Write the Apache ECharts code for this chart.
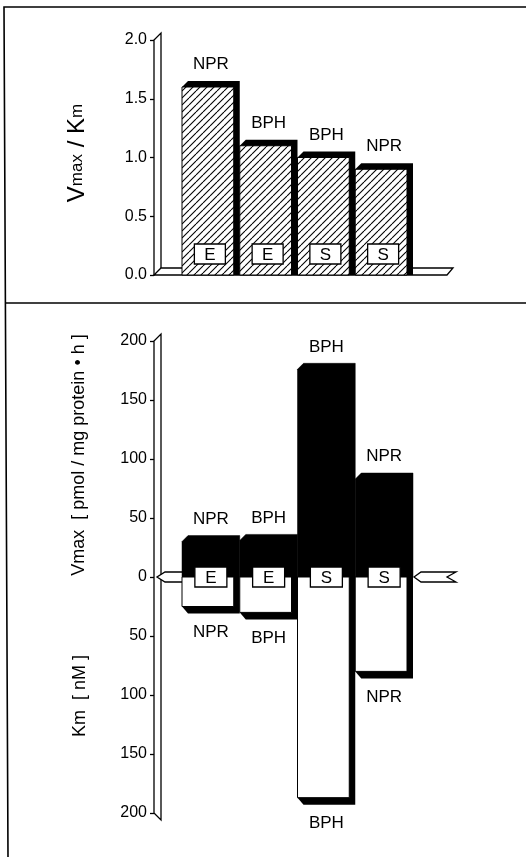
<!DOCTYPE html>
<html>
<head>
<meta charset="utf-8">
<script src="https://cdn.jsdelivr.net/npm/echarts@6/dist/echarts.min.js"></script>
<style>
html,body{margin:0;padding:0;background:#fff;}
#main{width:526px;height:857px;}
</style>
</head>
<body>
<div id="main"></div>
<script>
// ---- data ----
const categories = ['E', 'E', 'S', 'S'];
const tissues = ['NPR', 'BPH', 'BPH', 'NPR'];
const ratioValues = [1.6, 1.1, 1.0, 0.9];     // Vmax / Km
const vmaxValues = [30, 31, 176, 83];          // pmol / mg protein · h
const kmValues = [25, 30, 187, 80];            // nM
const ratioTicks = [0, 0.5, 1.0, 1.5, 2.0];
const kineticTicks = [-200, -150, -100, -50, 0, 50, 100, 150, 200];

const FONT = "'Liberation Sans', Arial, Helvetica, sans-serif";
const AXIS_OFFSET = 28, SLAB = 7, DEPTH = 6;

// hatch pattern
const hatch = document.createElement('canvas');
hatch.width = 7; hatch.height = 7;
(function () {
  const c = hatch.getContext('2d');
  c.fillStyle = '#fff'; c.fillRect(0, 0, 7, 7);
  c.strokeStyle = '#000'; c.lineWidth = 1.1;
  [-7, 0, 7].forEach(o => { c.beginPath(); c.moveTo(o, 7); c.lineTo(o + 7, 0); c.stroke(); });
})();

const chart = echarts.init(document.getElementById('main'), null, {renderer: 'canvas'});

function geom(params, api, i) {
  const pitch = api.size([1, 0])[0];
  const c = api.coord([i, 0]);
  const x0 = c[0] - pitch / 2;
  return {pitch, x0, x1: x0 + pitch - DEPTH, base: c[1], mid: c[0]};
}
function boxEl(cx, cy, letter, w, h) {
  return [
    {type: 'rect', shape: {x: cx - w / 2, y: cy - h / 2, width: w, height: h},
     style: {fill: '#fff', stroke: '#000', lineWidth: 1.3}},
    {type: 'text', style: {x: cx, y: cy + 1, text: letter, align: 'center', verticalAlign: 'middle',
      font: '17px ' + FONT, fill: '#000'}}
  ];
}

// top frame: axis slab + floor
function topFrame(params, api) {
  const cs = params.coordSys;
  const ax = cs.x - AXIS_OFFSET;
  const base = api.coord([0, 0])[1];
  const R = cs.x + cs.width;
  return {type: 'group', children: [
    {type: 'polyline', shape: {points: [[ax, base + 1], [ax, cs.y], [ax + SLAB, cs.y - SLAB], [ax + SLAB, base - SLAB]]},
     style: {stroke: '#000', lineWidth: 1.3, fill: null}},
    {type: 'polygon', shape: {points: [[ax, base], [ax + SLAB, base - SLAB], [R + 40, base - SLAB], [R + 34, base]]},
     style: {stroke: '#000', lineWidth: 1.3, fill: '#fff'}}
  ]};
}
function topBar(params, api) {
  const i = api.value(0), v = api.value(1);
  const g = geom(params, api, i);
  const top = api.coord([i, v])[1];
  const d = DEPTH;
  return {type: 'group', children: [
    {type: 'polygon', shape: {points: [[g.x0, top], [g.x0 + d, top - d], [g.x1 + d, top - d], [g.x1 + d, g.base], [g.x1, g.base]]},
     style: {fill: '#000'}},
    {type: 'rect', shape: {x: g.x0, y: top, width: g.x1 - g.x0, height: g.base - top},
     style: {fill: {image: hatch, repeat: 'repeat'}, stroke: '#000', lineWidth: 1}},
    ...boxEl((g.x0 + g.x1) / 2 + 2, g.base - 21, categories[i], 31, 20),
    {type: 'text', style: {x: g.mid, y: top - d - 8, text: tissues[i], align: 'center', verticalAlign: 'bottom',
      font: '17px ' + FONT, fill: '#000'}}
  ]};
}

// bottom frame: slab + zero ribbon
function botFrame(params, api) {
  const cs = params.coordSys;
  const ax = cs.x - AXIS_OFFSET;
  const z = api.coord([0, 0])[1];
  const R = cs.x + cs.width;
  const B = cs.y + cs.height;
  return {type: 'group', children: [
    {type: 'polyline', shape: {points: [[ax, B], [ax, cs.y], [ax + SLAB, cs.y - SLAB], [ax + SLAB, B + SLAB], [ax, B]]},
     style: {stroke: '#000', lineWidth: 1.3, fill: null}},
    {type: 'polygon', shape: {points: [[cs.x + 2, z - 5], [ax + 11, z - 5], [ax + 3, z], [ax + 11, z + 5], [cs.x + 2, z + 5]]},
     style: {stroke: '#000', lineWidth: 1.3, fill: '#fff'}},
    {type: 'polygon', shape: {points: [[R + 1, z], [R + 8, z - 5], [R + 43, z - 5], [R + 34, z], [R + 43, z + 5], [R + 8, z + 5]]},
     style: {stroke: '#000', lineWidth: 1.3, fill: '#fff'}}
  ]};
}
function vmaxBar(params, api) {
  const i = api.value(0), v = api.value(1);
  const g = geom(params, api, i);
  const top = api.coord([i, v])[1];
  const d = DEPTH;
  return {type: 'group', children: [
    {type: 'polygon', shape: {points: [[g.x0, g.base], [g.x0, top], [g.x0 + d, top - d], [g.x1 + d, top - d], [g.x1 + d, g.base]]},
     style: {fill: '#000', stroke: '#000', lineWidth: 0.5}},
    {type: 'text', style: {x: g.mid, y: top - d - 8, text: tissues[i], align: 'center', verticalAlign: 'bottom',
      font: '17px ' + FONT, fill: '#000'}}
  ]};
}
function kmBar(params, api) {
  const i = api.value(0), v = api.value(1);
  const g = geom(params, api, i);
  const bot = api.coord([i, v])[1];
  const d = DEPTH;
  return {type: 'group', children: [
    {type: 'polygon', shape: {points: [[g.x1, g.base], [g.x1 + d, g.base], [g.x1 + d, bot + d + 1], [g.x0 + d, bot + d + 1], [g.x0, bot]]},
     style: {fill: '#000'}},
    {type: 'rect', shape: {x: g.x0, y: g.base, width: g.x1 - g.x0, height: bot - g.base},
     style: {fill: '#fff', stroke: '#000', lineWidth: 1}},
    ...boxEl((g.x0 + g.x1) / 2 + 3, g.base, categories[i], 32, 20),
    {type: 'text', style: {x: g.mid, y: bot + d + 11, text: tissues[i], align: 'center', verticalAlign: 'top',
      font: '17px ' + FONT, fill: '#000'}}
  ]};
}

const ratioData = ratioValues.map((v, i) => [i, v]);
const vmaxData = vmaxValues.map((v, i) => [i, v]);
const kmData = kmValues.map((v, i) => [i, -v]);

const yCommon = {
  type: 'value', offset: AXIS_OFFSET,
  axisLine: {show: false},
  axisTick: {show: true, inside: false, length: 4, lineStyle: {color: '#000', width: 1.3}},
  splitLine: {show: false},
  axisLabel: {color: '#000', fontFamily: FONT, margin: 7}
};
const xCommon = {type: 'category', data: categories, boundaryGap: true, show: false};

chart.setOption({
  animation: false,
  backgroundColor: '#fff',
  grid: [
    {left: 182, width: 231, top: 40, height: 235},
    {left: 182, width: 231, top: 341, height: 472}
  ],
  xAxis: [Object.assign({gridIndex: 0}, xCommon), Object.assign({gridIndex: 1}, xCommon)],
  yAxis: [
    Object.assign({}, yCommon, {gridIndex: 0, min: ratioTicks[0], max: ratioTicks[ratioTicks.length - 1],
      interval: ratioTicks[1] - ratioTicks[0],
      axisLabel: Object.assign({}, yCommon.axisLabel, {fontSize: 16, formatter: v => v.toFixed(1)})}),
    Object.assign({}, yCommon, {gridIndex: 1, min: kineticTicks[0], max: kineticTicks[kineticTicks.length - 1],
      interval: kineticTicks[1] - kineticTicks[0],
      axisLabel: Object.assign({}, yCommon.axisLabel, {fontSize: 16, formatter: v => String(Math.abs(v))})})
  ],
  graphic: [
    {type: 'polyline', shape: {points: [[526, 7], [4, 7], [8, 857]]}, style: {stroke: '#000', lineWidth: 1.6, fill: null}},
    {type: 'line', shape: {x1: 6, y1: 303, x2: 526, y2: 303}, style: {stroke: '#000', lineWidth: 1.6}},
    {type: 'text', x: 77, y: 153, rotation: Math.PI / 2,
     style: {text: '{b|V}{s|max}{b| / K}{s|m}', align: 'center', verticalAlign: 'middle',
       rich: {b: {fontSize: 24, fontFamily: FONT, fill: '#000'}, s: {fontSize: 17, fontFamily: FONT, fill: '#000'}}}},
    {type: 'text', x: 79, y: 455, rotation: Math.PI / 2,
     style: {text: 'Vmax  [ pmol / mg protein \u2022 h ]', align: 'center', verticalAlign: 'middle',
       font: '18px ' + FONT, fill: '#000'}},
    {type: 'text', x: 80, y: 696, rotation: Math.PI / 2,
     style: {text: 'Km  [ nM ]', align: 'center', verticalAlign: 'middle', font: '18px ' + FONT, fill: '#000'}}
  ],
  series: [
    {type: 'custom', xAxisIndex: 0, yAxisIndex: 0, data: [[0, 0]], renderItem: topFrame, silent: true},
    {type: 'custom', name: 'Vmax/Km', xAxisIndex: 0, yAxisIndex: 0, data: ratioData, encode: {x: 0, y: 1}, renderItem: topBar},
    {type: 'custom', xAxisIndex: 1, yAxisIndex: 1, data: [[0, 0]], renderItem: botFrame, silent: true},
    {type: 'custom', name: 'Vmax', xAxisIndex: 1, yAxisIndex: 1, data: vmaxData, encode: {x: 0, y: 1}, renderItem: vmaxBar},
    {type: 'custom', name: 'Km', xAxisIndex: 1, yAxisIndex: 1, data: kmData, encode: {x: 0, y: 1}, renderItem: kmBar}
  ]
});
</script>
</body>
</html>
